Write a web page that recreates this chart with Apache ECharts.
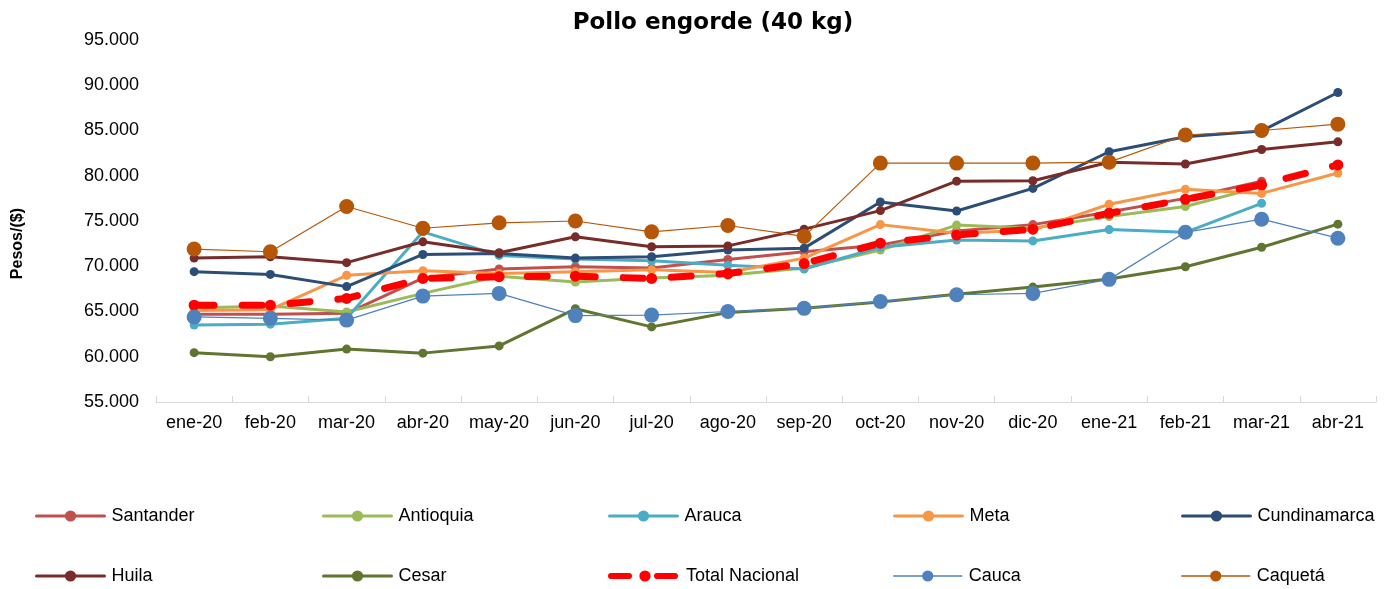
<!DOCTYPE html>
<html>
<head>
<meta charset="utf-8">
<script src="https://cdn.jsdelivr.net/npm/echarts@6/dist/echarts.min.js"></script>
<style>
html,body{margin:0;padding:0;background:#fff;}
#chart{width:1387px;height:589px;}
</style>
</head>
<body>
<div id="chart"></div>
<script>
const categories = ['ene-20','feb-20','mar-20','abr-20','may-20','jun-20','jul-20','ago-20','sep-20','oct-20','nov-20','dic-20','ene-21','feb-21','mar-21','abr-21'];

const santander    = [64700, 64700, 64800, 68700, 69700, 69950, 69800, 70750, 71600, 72350, 73900, 74600, 76000, 77500, 79400, null];
const antioquia    = [65400, 65600, 64950, 67000, 68900, 68250, 68700, 69000, 69800, 71800, 74550, 74200, 75500, 76600, 78800, null];
const arauca       = [63500, 63600, 64250, 73800, 71200, 70800, 70600, 70100, 69700, 72100, 72900, 72800, 74050, 73750, 76950, null];
const meta         = [65100, 65200, 69000, 69500, 69200, 69400, 69600, 69300, 70900, 74600, 73650, 74000, 76850, 78500, 78050, 80300];
const cundinamarca = [69400, 69100, 67750, 71300, 71400, 70900, 71050, 71800, 72000, 77100, 76100, 78600, 82650, 84300, 84950, 89200];
const huila        = [70900, 71050, 70400, 72700, 71500, 73250, 72150, 72250, 74100, 76150, 79400, 79450, 81500, 81300, 82900, 83750];
const cesar        = [60450, 60000, 60850, 60400, 61200, 65300, 63300, 64900, 65350, 66050, 66900, 67700, 68600, 69950, 72100, 74650];
const totalNacional= [65700, 65700, 66450, 68650, 68850, 68900, 68650, 69200, 70300, 72550, 73450, 74100, 75850, 77400, 79000, 81200];
const cauca        = [64400, 64250, 64050, 66700, 67000, 64550, 64600, 65000, 65350, 66100, 66850, 67000, 68550, 73750, 75200, 73100];
const caqueta      = [71900, 71600, 76600, 74200, 74800, 75000, 73800, 74500, 73300, 81400, 81400, 81400, 81500, 84500, 85000, 85700];

const seriesNames = ['Santander','Antioquia','Arauca','Meta','Cundinamarca','Huila','Cesar','Total Nacional','Cauca','Caquetá'];
const seriesData = [santander, antioquia, arauca, meta, cundinamarca, huila, cesar, totalNacional, cauca, caqueta];

const styles = [
  {color:'#C0504D', width:3, size:9},
  {color:'#9BBB59', width:3, size:9},
  {color:'#4BACC6', width:3, size:9},
  {color:'#F79646', width:3, size:9},
  {color:'#2C4D75', width:3, size:9},
  {color:'#772C2A', width:3, size:9},
  {color:'#5F7530', width:3, size:9},
  {color:'#FF0000', width:7, size:11, dash:[20,28]},
  {color:'#4F81BD', width:1.2, size:15},
  {color:'#B65708', width:1.2, size:15}
];

const series = seriesNames.map((name, i) => {
  const s = styles[i];
  return {
    name: name,
    type: 'line',
    data: seriesData[i],
    symbol: 'circle',
    symbolSize: s.size,
    showAllSymbol: true,
    connectNulls: false,
    itemStyle: {color: s.color},
    lineStyle: {color: s.color, width: s.width, type: s.dash ? s.dash : 'solid', cap: 'round', join: 'round'},
    emphasis: {disabled: true},
    animation: false
  };
});

const legendCols = [35, 322, 608, 893, 1181];
const legendRows = [507, 567];
const legends = seriesNames.map((name, i) => {
  const s = styles[i];
  return {
    data: [name],
    left: legendCols[i % 5],
    top: legendRows[Math.floor(i / 5)],
    itemWidth: 68,
    itemHeight: 14,
    itemGap: 0,
    padding: 0,
    selectedMode: false,
    lineStyle: {width: s.dash ? 6 : (s.width > 2 ? 3 : 1.5), type: s.dash ? [18, 28] : 'solid', cap: 'round'},
    textStyle: {fontFamily: 'Liberation Sans, Arial, sans-serif', fontSize: 18, color: '#000', padding: [0,0,0,2]}
  };
});

const chart = echarts.init(document.getElementById('chart'), null, {renderer: 'canvas'});
chart.setOption({
  animation: false,
  backgroundColor: '#fff',
  title: {
    text: 'Pollo engorde (40 kg)',
    left: 708,
    textAlign: 'center',
    top: 7,
    textStyle: {fontFamily: 'DejaVu Sans, sans-serif', fontWeight: 'bold', fontSize: 23, color: '#000'}
  },
  legend: legends,
  grid: {left: 156, right: 11, top: 40, bottom: 187, containLabel: false},
  xAxis: {
    type: 'category',
    data: categories,
    boundaryGap: true,
    axisLine: {show: true, lineStyle: {color: '#D9D9D9', width: 1}},
    axisTick: {show: true, inside: true, length: 6, lineStyle: {color: '#D9D9D9'}},
    axisLabel: {fontFamily: 'Liberation Sans, Arial, sans-serif', fontSize: 18, color: '#000', margin: 12, interval: 0},
    splitLine: {show: false}
  },
  yAxis: {
    type: 'value',
    min: 55000,
    max: 95000,
    interval: 5000,
    axisLine: {show: false},
    axisTick: {show: false},
    splitLine: {show: false},
    axisLabel: {
      fontFamily: 'Liberation Sans, Arial, sans-serif', fontSize: 18, color: '#000', margin: 17,
      formatter: v => String(v).replace(/\B(?=(\d{3})+(?!\d))/g, '.')
    }
  },
  graphic: [{
    type: 'text',
    left: 10,
    top: 208,
    rotation: Math.PI / 2,
    style: {text: 'Pesos/($)', font: 'bold 16px "Liberation Sans", Arial, sans-serif', fill: '#000'}
  }],
  series: series
});
</script>
</body>
</html>
